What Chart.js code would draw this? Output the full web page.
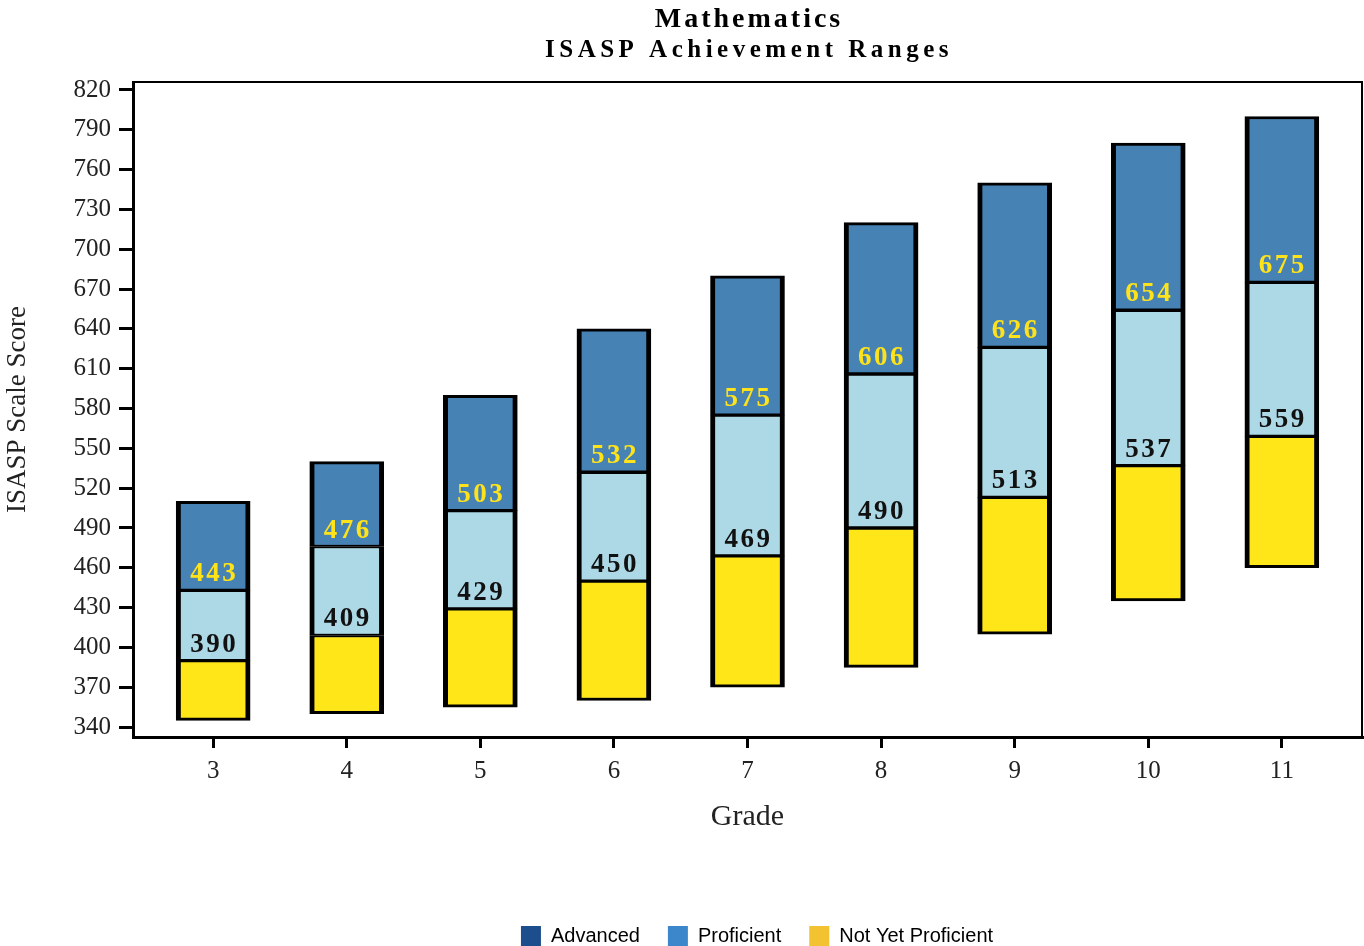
<!DOCTYPE html>
<html>
<head>
<meta charset="utf-8">
<title>ISASP Achievement Ranges - Mathematics</title>
<script src="https://cdn.jsdelivr.net/npm/chart.js@4.4.0/dist/chart.umd.min.js"></script>
<style>
  html, body { margin: 0; padding: 0; background: #fff; }
  #wrap { width: 1364px; height: 946px; }
</style>
</head>
<body>
<div id="wrap"><canvas id="rangeChart" width="1364" height="946"></canvas></div>
<script>
// values
var grades = [3, 4, 5, 6, 7, 8, 9, 10, 11];
var minScores = [345, 350, 355, 360, 370, 385, 410, 435, 460];
var proficientCut = [390, 409, 429, 450, 469, 490, 513, 537, 559];
var advancedCut = [443, 476, 503, 532, 575, 606, 626, 654, 675];
var maxScores = [510, 540, 590, 640, 680, 720, 750, 780, 800];
var yTicks = [340, 370, 400, 430, 460, 490, 520, 550, 580, 610, 640, 670, 700, 730, 760, 790, 820];

var legendNames = ["Advanced", "Proficient", "Not Yet Proficient"];
var legendColors = ["#1c4d8c", "#3c87cb", "#f2c230"];

var serif = "'Liberation Serif', 'Times New Roman', serif";

function ranges(lo, hi) {
  var out = [];
  for (var i = 0; i < grades.length; i++) {
    out.push({ x: grades[i], y: [lo[i], hi[i]] });
  }
  return out;
}

// titles drawn with letter spacing like the original
var titlePlugin = {
  id: "titles",
  afterDraw: function (chart) {
    var ctx = chart.ctx;
    ctx.save();
    ctx.fillStyle = "#000";
    ctx.textAlign = "center";
    ctx.textBaseline = "alphabetic";
    ctx.letterSpacing = "3px";
    ctx.font = "bold 28px " + serif;
    ctx.fillText("Mathematics", 749, 27);
    ctx.font = "bold 25px " + serif;
    ctx.letterSpacing = "4.5px";
    ctx.fillText("ISASP Achievement Ranges", 749, 57);
    ctx.restore();
  }
};

// frame round the plot area
var framePlugin = {
  id: "frame",
  beforeDatasetsDraw: function (chart) {
    var a = chart.chartArea;
    var ctx = chart.ctx;
    ctx.save();
    ctx.strokeStyle = "#000";
    ctx.lineWidth = 2;
    ctx.beginPath();
    ctx.moveTo(a.left, a.top);
    ctx.lineTo(a.right, a.top);
    ctx.lineTo(a.right, a.bottom);
    ctx.stroke();
    ctx.restore();
  }
};

// cut score labels sitting just above each boundary
var cutLabels = {
  id: "cutLabels",
  afterDatasetsDraw: function (chart) {
    var ctx = chart.ctx;
    var xs = chart.scales.x, ys = chart.scales.y;
    ctx.save();
    ctx.font = "bold 27px " + serif;
    ctx.letterSpacing = "2.5px";
    ctx.textAlign = "center";
    ctx.textBaseline = "alphabetic";
    for (var i = 0; i < grades.length; i++) {
      var x = xs.getPixelForValue(grades[i]) + 1;
      ctx.fillStyle = "#111";
      ctx.fillText(String(proficientCut[i]), x, ys.getPixelForValue(proficientCut[i]) - 9);
      ctx.fillStyle = "#ffe31a";
      ctx.fillText(String(advancedCut[i]), x, ys.getPixelForValue(advancedCut[i]) - 9);
    }
    ctx.restore();
  }
};

// legend sits low and a bit right of centre in the original
var legendPlace = {
  id: "legendPlace",
  beforeLayout: function (chart) {
    var lg = chart.legend;
    if (lg && !lg._patched) {
      var fit = lg.fit;
      lg.fit = function () {
        fit.call(this);
        this.height = 48;
      };
      lg._patched = true;
    }
  },
  afterLayout: function (chart) {
    var lg = chart.legend;
    if (lg) {
      lg.left += 76;
      lg.right += 76;
    }
  }
};

var ctx = document.getElementById("rangeChart").getContext("2d");
var rangeChart = new Chart(ctx, {
  type: "bar",
  data: {
    datasets: [
      {
        label: "Not Yet Proficient",
        data: ranges(minScores, proficientCut),
        backgroundColor: "#fee619",
        borderColor: "#000",
        borderWidth: { left: 5, right: 5, top: 2, bottom: 3 },
        borderSkipped: false
      },
      {
        label: "Proficient",
        data: ranges(proficientCut, advancedCut),
        backgroundColor: "#add8e6",
        borderColor: "#000",
        borderWidth: { left: 5, right: 5, top: 2, bottom: 2 },
        borderSkipped: false
      },
      {
        label: "Advanced",
        data: ranges(advancedCut, maxScores),
        backgroundColor: "#4682b4",
        borderColor: "#000",
        borderWidth: { left: 5, right: 5, top: 3, bottom: 2 },
        borderSkipped: false
      }
    ]
  },
  options: {
    responsive: false,
    animation: false,
    devicePixelRatio: 1,
    layout: { padding: { top: 82, right: 2, left: 0, bottom: 0 } },
    datasets: {
      bar: { grouped: false, barThickness: 74 }
    },
    scales: {
      x: {
        type: "linear",
        offset: false,
        min: 2.4,
        max: 11.6,
        afterBuildTicks: function (scale) {
          scale.ticks = grades.map(function (g) { return { value: g }; });
        },
        afterFit: function (scale) { scale.height = 161; },
        grid: {
          drawOnChartArea: false,
          offset: false,
          color: "#000",
          lineWidth: 3,
          tickLength: 11
        },
        border: { display: true, color: "#000", width: 3 },
        ticks: {
          color: "#222",
          padding: 8,
          font: { family: serif, size: 25 }
        },
        title: {
          display: true,
          text: "Grade",
          color: "#222",
          font: { family: serif, size: 30 },
          padding: { top: 0, bottom: 63 }
        }
      },
      y: {
        min: 332.5,
        max: 826,
        afterBuildTicks: function (scale) {
          scale.ticks = yTicks.map(function (v) { return { value: v }; });
        },
        afterFit: function (scale) { scale.width = 133; },
        grid: {
          drawOnChartArea: false,
          color: "#000",
          lineWidth: 3,
          tickLength: 14
        },
        border: { display: true, color: "#000", width: 3 },
        ticks: {
          color: "#222",
          padding: 8,
          font: { family: serif, size: 25 }
        },
        title: {
          display: true,
          text: "ISASP Scale Score",
          color: "#222",
          font: { family: serif, size: 27 },
          padding: { top: 2, bottom: 0 }
        }
      }
    },
    plugins: {
      title: { display: false },
      tooltip: { enabled: false },
      legend: {
        position: "bottom",
        align: "center",
        labels: {
          boxWidth: 20,
          boxHeight: 20,
          padding: 28,
          color: "#555",
          font: { family: "'Liberation Sans', Arial, sans-serif", size: 20 },
          generateLabels: function () {
            return legendNames.map(function (name, i) {
              return {
                text: name,
                fillStyle: legendColors[i],
                strokeStyle: legendColors[i],
                lineWidth: 0,
                hidden: false,
                datasetIndex: 2 - i
              };
            });
          }
        }
      }
    }
  },
  plugins: [titlePlugin, framePlugin, cutLabels, legendPlace]
});
</script>
</body>
</html>
